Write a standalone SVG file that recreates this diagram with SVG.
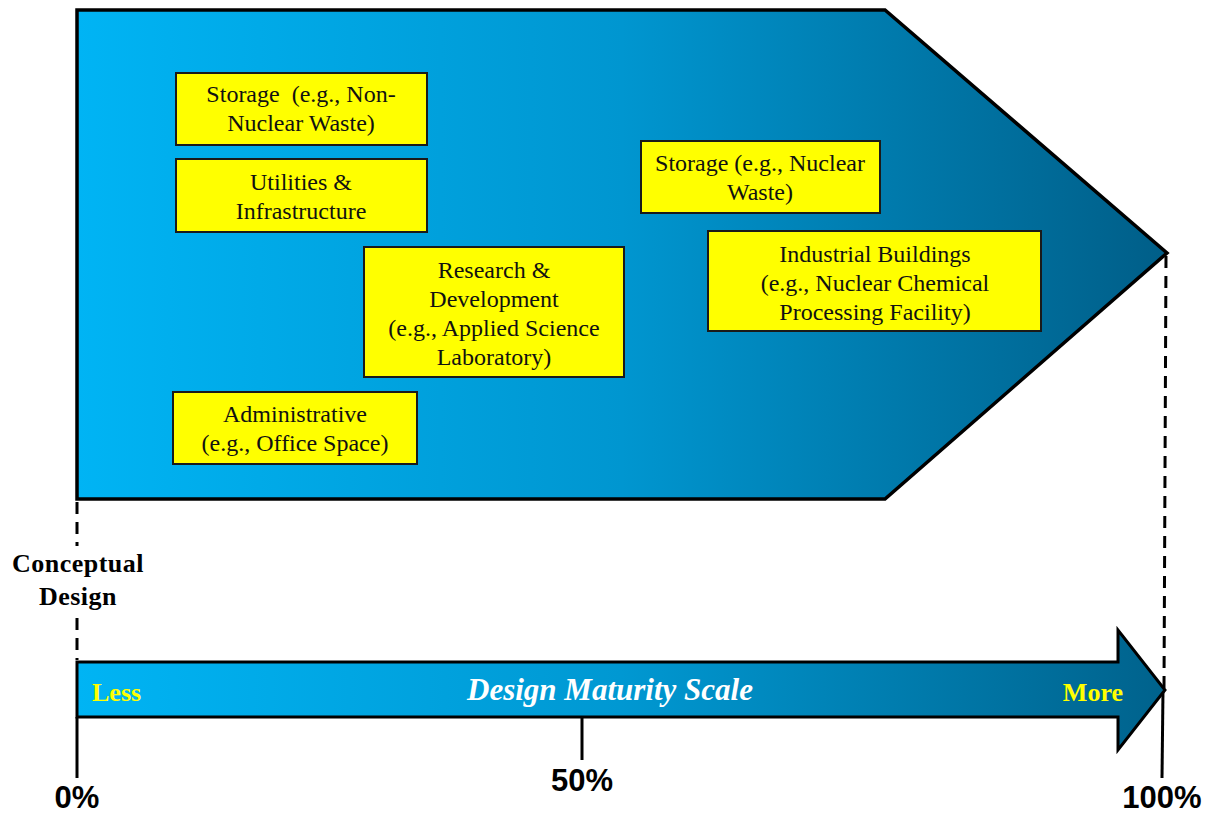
<svg xmlns="http://www.w3.org/2000/svg" width="1205" height="813" viewBox="0 0 1205 813">
<style>
.box{fill:#ffff00;stroke:#1a1a1a;stroke-width:2}
.bt{font-family:"Liberation Serif",serif;font-size:24px;fill:#111;text-anchor:middle}
.dash{stroke:#000;stroke-width:3;stroke-dasharray:12 8;fill:none}
.solid{stroke:#000;stroke-width:3;fill:none}
.pct{font-family:"Liberation Sans",sans-serif;font-weight:bold;font-size:31px;fill:#000;text-anchor:middle}
.lbl{font-family:"Liberation Serif",serif;font-weight:bold;font-size:26px;fill:#ffff00}
</style>
<defs>
<linearGradient id="g1" x1="0" y1="0" x2="1" y2="0">
<stop offset="0" stop-color="#00b4f4"/>
<stop offset="0.5" stop-color="#0096d0"/>
<stop offset="1" stop-color="#005e88"/>
</linearGradient>
<linearGradient id="g2" x1="0" y1="0" x2="1" y2="0">
<stop offset="0" stop-color="#00b4f4"/>
<stop offset="0.5" stop-color="#0098d2"/>
<stop offset="1" stop-color="#00628c"/>
</linearGradient>
</defs>
<g id="pentagon">
<polygon points="77,10 885,10 1167,253 885,499 77,499" fill="url(#g1)" stroke="#000" stroke-width="3.5"/>
</g>
<g id="connectors">
<line class="dash" x1="77" y1="502" x2="77" y2="546"/>
<line class="dash" x1="77" y1="618" x2="77" y2="660"/>
<line class="dash" x1="1166" y1="256" x2="1164" y2="688"/>
<line class="solid" x1="77" y1="717" x2="77" y2="778"/>
<line class="solid" x1="582" y1="718" x2="582" y2="760"/>
<line class="solid" x1="1163" y1="690" x2="1162" y2="778"/>
</g>
<g id="scale-arrow">
<polygon points="77,662 1118,662 1118,630 1165,690 1118,750 1118,717 77,717" fill="url(#g2)" stroke="#000" stroke-width="3"/>
<text class="lbl" x="92" y="701">Less</text>
<text class="lbl" x="1123" y="701" text-anchor="end">More</text>
<text x="610" y="700" font-family="Liberation Serif,serif" font-weight="bold" font-style="italic" font-size="31" fill="#ffffff" text-anchor="middle">Design Maturity Scale</text>
</g>
<g id="n-storage-nonnuclear">
<rect class="box" x="176" y="73" width="251" height="72"/>
<text class="bt" x="301" y="102" xml:space="preserve">Storage  (e.g., Non-</text>
<text class="bt" x="301" y="131">Nuclear Waste)</text>
</g>
<g id="n-utilities">
<rect class="box" x="176" y="159" width="251" height="73"/>
<text class="bt" x="301" y="190">Utilities &amp;</text>
<text class="bt" x="301" y="219">Infrastructure</text>
</g>
<g id="n-rnd">
<rect class="box" x="364" y="247" width="260" height="130"/>
<text class="bt" x="494" y="278">Research &amp;</text>
<text class="bt" x="494" y="307">Development</text>
<text class="bt" x="494" y="336">(e.g., Applied Science</text>
<text class="bt" x="494" y="365">Laboratory)</text>
</g>
<g id="n-admin">
<rect class="box" x="173" y="392" width="244" height="72"/>
<text class="bt" x="295" y="422">Administrative</text>
<text class="bt" x="295" y="451">(e.g., Office Space)</text>
</g>
<g id="n-storage-nuclear">
<rect class="box" x="641" y="141" width="239" height="72"/>
<text class="bt" x="760" y="171">Storage (e.g., Nuclear</text>
<text class="bt" x="760" y="200">Waste)</text>
</g>
<g id="n-industrial">
<rect class="box" x="708" y="231" width="333" height="100"/>
<text class="bt" x="875" y="262">Industrial Buildings</text>
<text class="bt" x="875" y="291">(e.g., Nuclear Chemical</text>
<text class="bt" x="875" y="320">Processing Facility)</text>
</g>
<g id="labels">
<text x="78" y="572" font-family="Liberation Serif,serif" font-weight="bold" font-size="26" fill="#000" text-anchor="middle" letter-spacing="0.5">Conceptual</text>
<text x="78" y="605" font-family="Liberation Serif,serif" font-weight="bold" font-size="26" fill="#000" text-anchor="middle" letter-spacing="0.5">Design</text>
<text class="pct" x="77" y="808">0%</text>
<text class="pct" x="582" y="791">50%</text>
<text class="pct" x="1162" y="808">100%</text>
</g>
</svg>
